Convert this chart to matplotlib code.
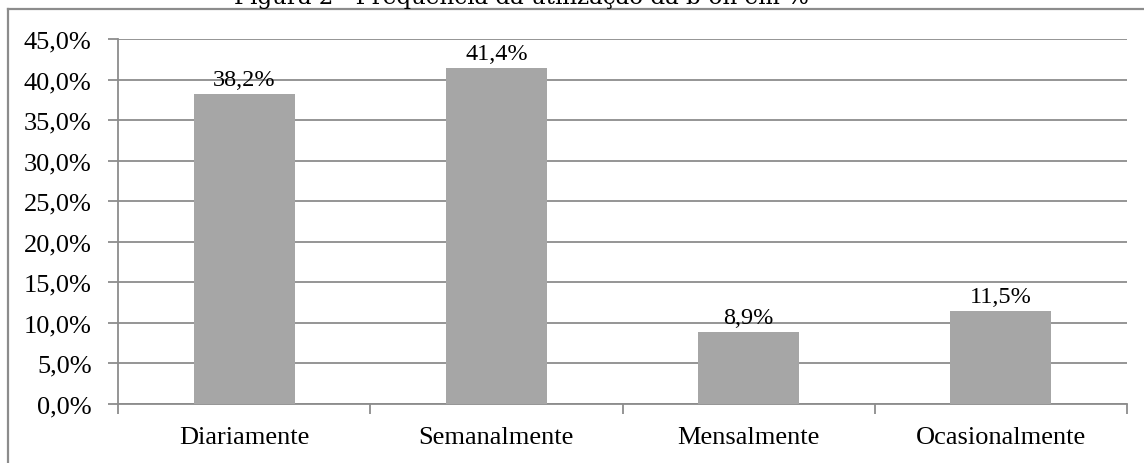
import matplotlib
matplotlib.use("Agg")
import matplotlib.pyplot as plt
from matplotlib.lines import Line2D

categories = ["Diariamente", "Semanalmente", "Mensalmente", "Ocasionalmente"]
values = [38.2, 41.4, 8.9, 11.5]
value_labels = ["38,2%", "41,4%", "8,9%", "11,5%"]
yticks = [0, 5, 10, 15, 20, 25, 30, 35, 40, 45]
ytick_labels = ["0,0%", "5,0%", "10,0%", "15,0%", "20,0%", "25,0%", "30,0%", "35,0%", "40,0%", "45,0%"]
title = "Figura 2 - Frequência da utilização da b-on em %"

W, H = 1144, 464
fig = plt.figure(figsize=(W / 100, H / 100), dpi=100)
fig.patch.set_facecolor("white")

serif = ["Liberation Serif", "DejaVu Serif"]
fs_tick = 19
fs_data = 17.5

# outer frame (top and left edges visible)
fig.add_artist(Line2D([8 / W, 8 / W], [0, 1 - 10 / H], color="#8c8c8c", lw=1.6, transform=fig.transFigure))
fig.add_artist(Line2D([8 / W, 1], [1 - 10 / H, 1 - 10 / H], color="#8c8c8c", lw=1.6, transform=fig.transFigure))

# title, mostly cut off at the top as in the reference
fig.text(521 / W, 1 - 4 / H, title, ha="center", va="baseline", fontsize=16.6,
         family=["DejaVu Serif"], color="black")

left, right, top, bottom = 118, 1127, 40, 405
ax = fig.add_axes([left / W, 1 - bottom / H, (right - left) / W, (bottom - top) / H])
ax.set_xlim(0, len(categories))
ax.set_ylim(0, 45)

x = [i + 0.5 for i in range(len(categories))]
ax.bar(x, values, width=0.4, color="#a6a6a6", zorder=3)
for xi, v, lab in zip(x, values, value_labels):
    ax.text(xi, v + 0.5, lab, ha="center", va="bottom", fontsize=fs_data, family=serif)

ax.set_yticks(yticks)
ax.set_yticklabels(ytick_labels, fontsize=fs_tick, family=serif)
ax.yaxis.grid(True, color="#8c8c8c", lw=1.3, zorder=0)
ax.set_axisbelow(True)

ax.set_xticks(range(len(categories) + 1))
ax.set_xticklabels([])
ax.set_xticks(x, minor=True)
ax.set_xticklabels(categories, minor=True, fontsize=fs_tick, family=serif)
ax.tick_params(axis="x", which="minor", length=0, pad=16)
ax.tick_params(axis="x", which="major", length=7, width=1.3, color="#8c8c8c")
ax.tick_params(axis="y", length=7, width=1.3, color="#8c8c8c", pad=12)

for s in ["top", "right"]:
    ax.spines[s].set_visible(False)
for s in ["left", "bottom"]:
    ax.spines[s].set_color("#8c8c8c")
    ax.spines[s].set_linewidth(1.3)

fig.savefig("out.png", dpi=100, facecolor="white")
